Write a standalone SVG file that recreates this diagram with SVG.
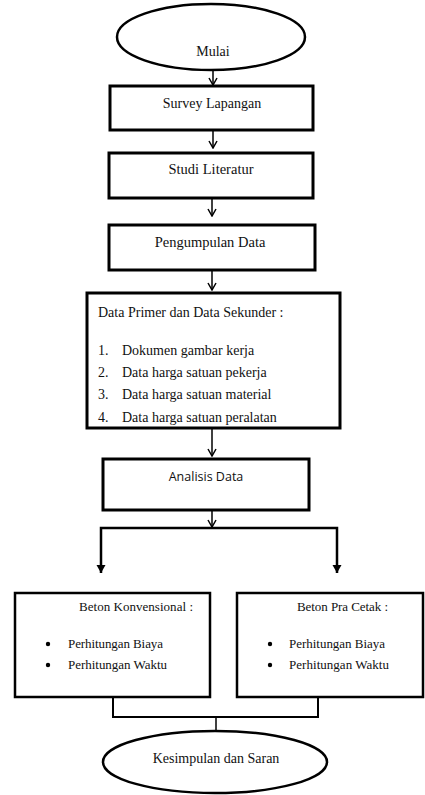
<svg xmlns="http://www.w3.org/2000/svg" width="425" height="795" viewBox="0 0 425 795">
<style>
  .box{fill:#fff;stroke:#000;stroke-width:3}
  .box2{fill:#fff;stroke:#000;stroke-width:2.5}
  .term{fill:#fff;stroke:#000;stroke-width:2.5}
  .t{font-family:"Liberation Serif","Times New Roman",serif;font-size:14px;fill:#111}
  .m{font-size:14.5px}
  .b{font-size:13px}
  .c{text-anchor:middle}
  .s{font-family:"Open Sans","Liberation Sans",sans-serif;font-size:12.5px;fill:#111}
  .ln{fill:none;stroke:#000;stroke-width:1.5}
  .br{fill:none;stroke:#000;stroke-width:2.5}
  .bk{fill:none;stroke:#000;stroke-width:2}
</style>
<defs>
  <marker id="v" viewBox="0 0 10 10" refX="9" refY="5" markerWidth="10" markerHeight="10" markerUnits="userSpaceOnUse" orient="auto">
    <path d="M2,1 L9,5 L2,9" fill="none" stroke="#000" stroke-width="1.5"/>
  </marker>
  <marker id="f" viewBox="0 0 10 10" refX="5" refY="10" markerWidth="10" markerHeight="10" markerUnits="userSpaceOnUse" orient="0">
    <path d="M0.5,2 L9.5,2 L5,10 Z" fill="#000"/>
  </marker>
</defs>

<g id="connectors">
  <line class="ln" x1="213" y1="70" x2="213" y2="85" marker-end="url(#v)"/>
  <line class="ln" x1="213" y1="131" x2="213" y2="148" marker-end="url(#v)"/>
  <line class="ln" x1="212" y1="199" x2="212" y2="216" marker-end="url(#v)"/>
  <line class="ln" x1="212" y1="271" x2="212" y2="290" marker-end="url(#v)"/>
  <line class="ln" x1="212" y1="429" x2="212" y2="456" marker-end="url(#v)"/>
  <line class="ln" x1="212" y1="511" x2="212" y2="527" marker-end="url(#v)"/>
  <path class="br" d="M101,573 V528 H337 V573"/>
  <line x1="101" y1="560" x2="101" y2="573" stroke="none" marker-end="url(#f)"/>
  <line x1="337" y1="560" x2="337" y2="573" stroke="none" marker-end="url(#f)"/>
  <path class="bk" d="M113,697 V717 H318 V697"/>
  <line class="ln" x1="216" y1="717" x2="216" y2="731"/>
</g>

<g id="mulai">
  <ellipse class="term" cx="211" cy="37" rx="94" ry="33"/>
  <text class="t c" x="213" y="56" font-size="16">Mulai</text>
</g>

<g id="survey">
  <rect class="box" x="110" y="86" width="203" height="44"/>
  <text class="t c" x="212" y="108" font-size="15">Survey Lapangan</text>
</g>

<g id="studi">
  <rect class="box" x="109" y="153" width="204" height="45"/>
  <text class="t c m" x="211" y="174">Studi Literatur</text>
</g>

<g id="pengumpulan">
  <rect class="box" x="109" y="225" width="206" height="45"/>
  <text class="t c m" x="210" y="247">Pengumpulan Data</text>
</g>

<g id="data">
  <rect class="box" x="87" y="293" width="253" height="135"/>
  <text class="t" x="98" y="317">Data Primer dan Data Sekunder :</text>
  <text class="t" x="98" y="355">1.</text>
  <text class="t" x="122" y="355" font-size="15">Dokumen gambar kerja</text>
  <text class="t" x="98" y="377">2.</text>
  <text class="t" x="122" y="377">Data harga satuan pekerja</text>
  <text class="t" x="98" y="399">3.</text>
  <text class="t" x="122" y="399">Data harga satuan material</text>
  <text class="t" x="98" y="422">4.</text>
  <text class="t" x="122" y="422">Data harga satuan peralatan</text>
</g>

<g id="analisis">
  <rect class="box" x="103" y="459" width="206" height="51"/>
  <text class="s c" x="206" y="481">Analisis Data</text>
</g>

<g id="konvensional">
  <rect class="box2" x="15" y="593" width="195" height="104"/>
  <text class="t b" x="79" y="611" textLength="114">Beton Konvensional :</text>
  <circle cx="48" cy="644" r="2.2" fill="#000"/>
  <text class="t b" x="68" y="648" textLength="95">Perhitungan Biaya</text>
  <circle cx="48" cy="665" r="2.2" fill="#000"/>
  <text class="t b" x="68" y="669" textLength="99">Perhitungan Waktu</text>
</g>

<g id="pracetak">
  <rect class="box2" x="237" y="593" width="186" height="104"/>
  <text class="t b" x="297" y="611" textLength="91">Beton Pra Cetak :</text>
  <circle cx="270" cy="644" r="2.2" fill="#000"/>
  <text class="t b" x="289" y="648" textLength="96">Perhitungan Biaya</text>
  <circle cx="270" cy="665" r="2.2" fill="#000"/>
  <text class="t b" x="289" y="669" textLength="100">Perhitungan Waktu</text>
</g>

<g id="kesimpulan">
  <ellipse class="term" cx="215" cy="762" rx="112" ry="31"/>
  <text class="t c" x="216" y="763" font-size="15">Kesimpulan dan Saran</text>
</g>
</svg>
